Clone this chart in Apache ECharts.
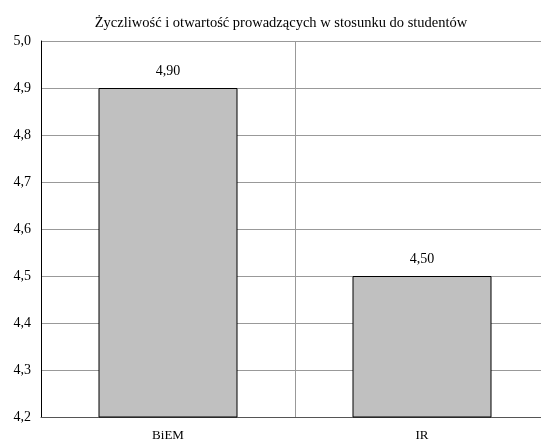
<!DOCTYPE html>
<html>
<head>
<meta charset="utf-8">
<script src="https://cdn.jsdelivr.net/npm/echarts@6/dist/echarts.min.js"></script>
<style>
  html, body { margin: 0; padding: 0; background: #fff; }
  #chart { width: 541px; height: 443px; }
</style>
</head>
<body>
<div id="chart"></div>
<script>
var categories = ['BiEM', 'IR']
var values = [4.9, 4.5]
var yTicks = [4.2, 5.0, 0.1] // min, max, step

var FONT = '"Liberation Serif", "DejaVu Serif", serif'

function comma (v, digits) {
  return v.toFixed(digits).replace('.', ',')
}

var chart = echarts.init(document.getElementById('chart'), null, { renderer: 'canvas' })

var option = {
  animation: false,
  title: {
    text: 'Życzliwość i otwartość prowadzących w stosunku do studentów',
    left: 276,
    top: 11,
    textAlign: 'center',
    textStyle: { fontFamily: FONT, fontSize: 14.5, fontWeight: 'normal', color: '#000' }
  },
  grid: {
    left: 41,
    width: 508,
    top: 41,
    height: 376,
    outerBoundsMode: 'none'
  },
  xAxis: {
    type: 'category',
    data: categories,
    axisLine: { lineStyle: { color: '#555', width: 1 } },
    axisTick: { show: false },
    axisLabel: { fontFamily: FONT, fontSize: 13, color: '#000', margin: 12 },
    splitLine: { show: true, lineStyle: { color: '#999', width: 1 } }
  },
  yAxis: {
    type: 'value',
    min: yTicks[0],
    max: yTicks[1],
    interval: yTicks[2],
    axisLine: { show: true, lineStyle: { color: '#000', width: 1 } },
    axisTick: { show: false },
    axisLabel: {
      fontFamily: FONT, fontSize: 14, color: '#000', margin: 10,
      formatter: function (v) { return comma(v, 1) }
    },
    splitLine: { show: true, lineStyle: { color: '#999', width: 1 } }
  },
  series: [{
    type: 'bar',
    data: values,
    barWidth: 139,
    itemStyle: { color: '#c0c0c0', borderColor: '#000', borderWidth: 1 },
    label: {
      show: true,
      position: 'top',
      distance: 10,
      fontFamily: FONT, fontSize: 14, color: '#000',
      formatter: function (p) { return comma(p.value, 2) }
    }
  }],
  graphic: [{
    type: 'line',
    shape: { x1: 41, y1: 41.5, x2: 541, y2: 41.5 },
    style: { stroke: '#444', lineWidth: 1 }
  }]
}

chart.setOption(option)
</script>
</body>
</html>
